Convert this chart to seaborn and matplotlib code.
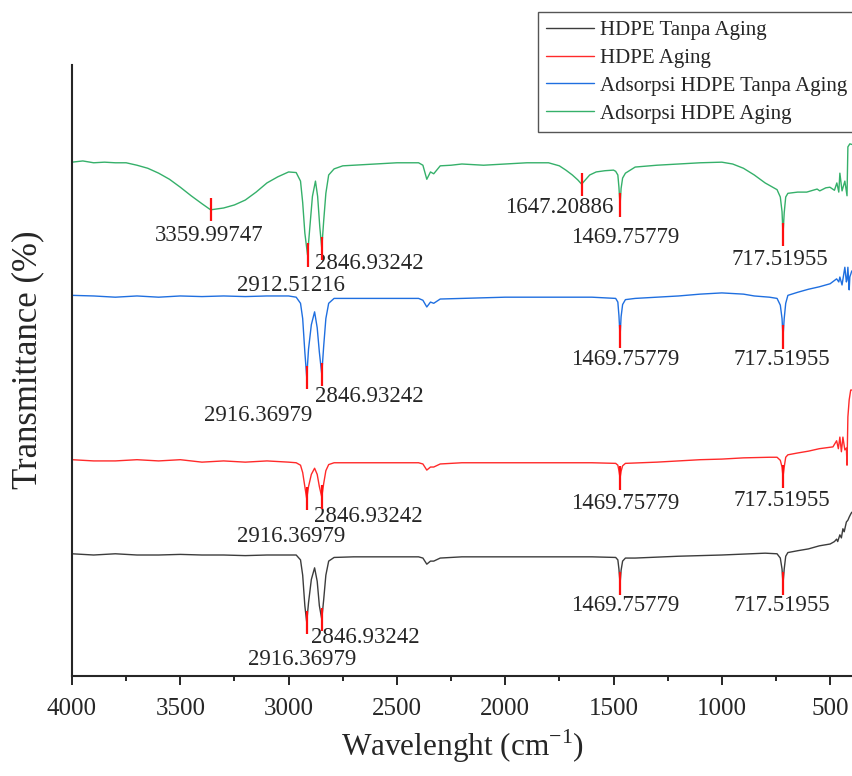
import pandas as pd
import matplotlib
matplotlib.use("Agg")
import matplotlib.pyplot as plt
import seaborn as sns

# FTIR spectra, stacked (arbitrary offset units)
names = ["HDPE Tanpa Aging", "HDPE Aging", "Adsorpsi HDPE Tanpa Aging", "Adsorpsi HDPE Aging"]
colors = ["#3c3c3c", "#ff2a2a", "#1f6fe0", "#35b06a"]

black_wn = [4000, 3900, 3800, 3700, 3600, 3500, 3400, 3300, 3200, 3100,
            3000, 2965, 2945, 2935, 2925, 2916.36979, 2908, 2895, 2880, 2868,
            2858, 2846.93242, 2838, 2828, 2815, 2790, 2700, 2500, 2400, 2380,
            2362, 2345, 2330, 2300, 2200, 2000, 1800, 1600, 1490, 1480,
            1475, 1469.75779, 1465, 1458, 1445, 1400, 1200, 1000, 800, 745,
            730, 722, 717.51955, 712, 705, 695, 650, 600, 550, 500,
            480, 470, 465, 455, 448, 441, 435, 425, 418, 412,
            405, 400]
black_t = [20.0, 19.8, 20.0, 19.8, 19.8, 19.9, 19.8, 19.8, 19.7, 19.8,
           19.8, 19.8, 19.0, 16.5, 11.5, 8.8, 12.0, 15.8, 17.7, 15.5,
           11.5, 9.3, 12.5, 16.5, 18.8, 19.4, 19.5, 19.5, 19.5, 19.3,
           18.3, 18.8, 18.8, 19.3, 19.5, 19.5, 19.5, 19.5, 19.4, 19.0,
           17.5, 15.1, 17.3, 18.8, 19.3, 19.3, 19.6, 19.8, 20.1, 20.0,
           19.3, 17.5, 15.1, 17.5, 19.6, 20.2, 20.5, 20.8, 21.3, 21.6,
           22.0, 22.4, 22.0, 23.1, 22.6, 24.1, 23.6, 25.2, 25.5, 26.0,
           26.5, 26.8]

red_wn = [4000, 3900, 3800, 3700, 3600, 3500, 3400, 3300, 3200, 3100,
          3000, 2965, 2945, 2935, 2925, 2916.36979, 2908, 2895, 2880, 2868,
          2858, 2846.93242, 2838, 2828, 2815, 2790, 2700, 2500, 2400, 2380,
          2362, 2345, 2330, 2300, 2200, 2000, 1800, 1600, 1490, 1480,
          1475, 1469.75779, 1465, 1458, 1445, 1300, 1100, 1000, 900, 780,
          745, 730, 722, 717.51955, 712, 705, 695, 650, 600, 550,
          487, 470, 462, 455, 448, 441, 432, 425, 422, 418,
          412, 405, 400]
red_t = [35.4, 35.2, 35.2, 35.4, 35.2, 35.4, 35.0, 35.2, 35.0, 35.2,
         35.0, 34.9, 34.5, 33.3, 31.0, 29.0, 31.0, 33.0, 34.0, 33.0,
         31.0, 29.3, 31.5, 33.6, 34.6, 34.9, 34.9, 34.9, 34.9, 34.7,
         33.7, 34.2, 34.2, 34.7, 34.9, 34.9, 34.9, 34.9, 34.8, 34.5,
         33.6, 32.4, 33.5, 34.4, 34.8, 35.0, 35.4, 35.5, 35.7, 35.8,
         35.8, 35.3, 34.2, 32.6, 34.2, 35.8, 36.2, 36.5, 36.8, 37.2,
         37.5, 38.5, 37.2, 39.1, 36.7, 39.1, 37.0, 37.3, 34.5, 42.4,
         45.2, 46.8, 46.8]

blue_wn = [4000, 3900, 3800, 3700, 3600, 3500, 3400, 3300, 3200, 3100,
           3000, 2965, 2945, 2935, 2925, 2916.36979, 2908, 2895, 2880, 2868,
           2858, 2846.93242, 2838, 2828, 2815, 2790, 2700, 2500, 2400, 2380,
           2362, 2345, 2330, 2300, 2200, 2000, 1800, 1600, 1490, 1480,
           1475, 1469.75779, 1465, 1458, 1445, 1400, 1300, 1200, 1100, 1000,
           900, 850, 780, 745, 730, 722, 717.51955, 712, 705, 695,
           650, 600, 550, 500, 470, 460, 455, 445, 432, 425,
           422, 418, 412, 409, 400]
blue_t = [62.3, 62.2, 62.0, 62.2, 62.0, 62.2, 62.1, 62.2, 62.1, 62.2,
          62.2, 62.0, 61.0, 58.5, 53.0, 48.9, 53.5, 57.5, 59.6, 57.0,
          53.0, 49.4, 54.0, 58.5, 61.0, 61.8, 61.8, 61.8, 61.8, 61.5,
          60.4, 61.2, 61.0, 61.7, 61.8, 62.0, 62.0, 62.0, 61.8, 61.2,
          59.0, 55.6, 58.8, 60.8, 61.6, 61.8, 62.0, 62.2, 62.5, 62.7,
          62.5, 62.2, 62.0, 61.8, 60.7, 58.5, 55.5, 58.5, 61.0, 62.3,
          62.8, 63.3, 63.7, 64.2, 65.0, 64.5, 65.3, 64.0, 66.9, 64.5,
          64.8, 66.9, 63.2, 65.3, 66.3]

green_wn = [4000, 3950, 3900, 3850, 3800, 3750, 3700, 3650, 3600, 3550,
            3500, 3450, 3400, 3359.99747, 3300, 3250, 3200, 3150, 3100, 3050,
            3000, 2965, 2945, 2935, 2925, 2912.51216, 2903, 2890, 2876, 2866,
            2856, 2846.93242, 2838, 2828, 2815, 2790, 2750, 2700, 2600, 2500,
            2400, 2380, 2362, 2345, 2330, 2300, 2250, 2200, 2100, 2000,
            1900, 1800, 1750, 1720, 1690, 1665, 1647.20886, 1630, 1610, 1580,
            1540, 1500, 1490, 1480, 1475, 1469.75779, 1465, 1458, 1445, 1400,
            1300, 1200, 1100, 1000, 950, 900, 850, 800, 745, 730,
            722, 717.51955, 712, 705, 695, 650, 608, 560, 548, 520,
            501, 480, 469, 460, 455, 445, 432, 422, 418, 409,
            400]
green_t = [84.1, 84.3, 84.0, 84.1, 84.0, 84.0, 83.6, 83.1, 82.3, 81.3,
           80.0, 78.6, 77.3, 76.3, 76.6, 77.1, 77.9, 79.2, 80.7, 81.7,
           82.5, 82.4, 81.0, 77.5, 72.5, 68.9, 73.0, 78.5, 81.0, 78.5,
           73.5, 70.0, 74.5, 79.0, 82.0, 83.0, 83.5, 83.6, 83.8, 84.0,
           84.0, 83.6, 81.3, 82.5, 82.2, 83.5, 83.6, 83.8, 83.6, 83.8,
           84.0, 84.0, 83.5, 82.8, 82.0, 81.2, 80.5, 81.2, 82.0, 82.5,
           82.7, 82.8, 82.6, 82.0, 80.0, 77.1, 79.8, 81.5, 82.3, 83.3,
           83.6, 83.8, 84.0, 84.1, 83.8, 83.1, 82.0, 80.7, 79.6, 78.4,
           76.0, 72.2, 75.8, 78.4, 79.0, 79.2, 79.2, 79.7, 79.4, 79.9,
           80.0, 79.5, 80.7, 79.2, 82.3, 79.4, 81.0, 78.6, 86.6, 87.1,
           87.0]

# peak labels: text and label centre offset from the peak (pixels)
black_peaks = [("2916.36979", -5, -37), ("2846.93242", 44, -18), ("1469.75779", 5, -22), ("717.51955", -1, -22)]
red_peaks = [("2916.36979", -16, -38), ("2846.93242", 47, -20), ("1469.75779", 5, -25), ("717.51955", -1, -24)]
blue_peaks = [("2916.36979", -49, -38), ("2846.93242", 48, -22), ("1469.75779", 5, -23), ("717.51955", -1, -23)]
green_peaks = [("3359.99747", -1, -26), ("2912.51216", -17, -30), ("2846.93242", 48, -15),
               ("1647.20886", -22, -23), ("1469.75779", 5, -33), ("717.51955", -3, -25)]

series = [(black_wn, black_t, black_peaks), (red_wn, red_t, red_peaks),
          (blue_wn, blue_t, blue_peaks), (green_wn, green_t, green_peaks)]

frames = []
for name, (wn, t, _) in zip(names, series):
    frames.append(pd.DataFrame({"wn": wn, "T": t, "sample": name}))
df = pd.concat(frames, ignore_index=True)

sns.set_style("ticks")
plt.rcParams["font.family"] = ["Liberation Serif", "DejaVu Serif"]
plt.rcParams["mathtext.fontset"] = "custom"
plt.rcParams["mathtext.rm"] = "Liberation Serif"

fig = plt.figure(figsize=(8.52, 7.76), dpi=100)
ax = fig.add_axes([0.0845, 0.1289, 0.9155, 0.7873])

sns.lineplot(data=df, x="wn", y="T", hue="sample", hue_order=names, palette=colors,
             estimator=None, sort=False, lw=1.0, ax=ax)

# red peak markers and labels
for wn, t, peaks in series:
    lookup = dict(zip(wn, t))
    for text, dx, dy in peaks:
        x = float(text)
        y = lookup[x]
        ax.vlines(x, y - 1.9, y + 1.9, color="#ff1010", lw=1.6, zorder=4)
        ax.annotate(text, xy=(x, y), xytext=(dx, dy), textcoords="offset pixels",
                    ha="center", va="center", fontsize=16.5)

ax.set_xlim(4000, 399)
ax.set_ylim(0, 100)
ax.set_yticks([])
ax.set_xticks([4000, 3500, 3000, 2500, 2000, 1500, 1000, 500])
ax.set_xticks(range(3750, 399, -500), minor=True)
ax.tick_params(axis="x", which="major", direction="out", length=6.5, width=1.4, labelsize=18, pad=9)
ax.tick_params(axis="x", which="minor", direction="out", length=3.6, width=1.4)
sns.despine(ax=ax)
for s in ["left", "bottom"]:
    ax.spines[s].set_linewidth(1.5)

ax.set_xlabel(r"Wavelenght (cm$^{\mathrm{-1}}$)", fontsize=22.5, labelpad=6)
ax.set_ylabel("Transmittance (%)", fontsize=25)
ax.yaxis.set_label_coords(-0.036, 0.517)

handles, labels = ax.get_legend_handles_labels()
ax.legend(handles, labels, loc="upper left", bbox_to_anchor=(538 / 852, 1 - 12 / 776),
          bbox_transform=fig.transFigure, borderaxespad=0, fontsize=15, frameon=True,
          fancybox=False, framealpha=1, edgecolor="#555555", handlelength=2.3,
          handletextpad=0.3, labelspacing=0.4, borderpad=0.4)
ax.get_legend().get_frame().set_linewidth(1.0)

fig.savefig("out.png", dpi=100)
